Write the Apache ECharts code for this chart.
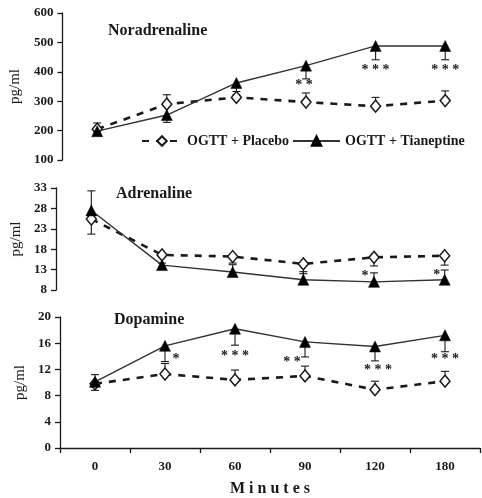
<!DOCTYPE html>
<html>
<head>
<meta charset="utf-8">
<script src="https://cdn.jsdelivr.net/npm/echarts@6/dist/echarts.min.js"></script>
<style>html,body{margin:0;padding:0;background:#fff}#c{width:482px;height:498px}</style>
</head>
<body>
<div id="c"></div>
<script>
// ---- data ----
const minutes = ['0', '30', '60', '90', '120', '180'];
const placeboName = 'OGTT + Placebo';
const tianName = 'OGTT + Tianeptine';

// Noradrenaline (pg/ml)
const norPlacebo = [205, 290, 313, 297, 283, 302];
const norPlaceboErrUp = [21, 32, 8, 31, 30, 33];
const norPlaceboErrDown = [0, 0, 0, 0, 0, 0];
const norTian = [198, 253, 362, 421, 488, 488];
const norTianErrUp = [0, 0, 0, 0, 0, 0];
const norTianErrDown = [10, 25, 29, 45, 47, 47];
const norSig = ['', '', '', '**', '***', '***'];
const norTicks = [100, 600, 100];

// Adrenaline (pg/ml)
const adrPlacebo = [25.4, 16.6, 16.2, 14.4, 16.0, 16.4];
const adrPlaceboErrUp = [0, 0, 0, 0, 0, 0];
const adrPlaceboErrDown = [3.7, 0.5, 1.6, 2.4, 2.1, 2.3];
const adrTian = [27.5, 14.1, 12.4, 10.5, 10.0, 10.5];
const adrTianErrUp = [4.8, 0.5, 1.8, 2.0, 2.2, 2.4];
const adrTianErrDown = [0, 0, 0, 0, 0, 0];
const adrSig = ['', '', '', '', '*', '*'];
const adrTicks = [8, 33, 5];

// Dopamine (pg/ml)
const dopPlacebo = [9.8, 11.3, 10.4, 11.0, 8.9, 10.2];
const dopPlaceboErrUp = [0, 1.6, 1.5, 1.5, 1.3, 1.5];
const dopPlaceboErrDown = [1.0, 0, 0, 0, 0, 0];
const dopTian = [10.1, 15.6, 18.2, 16.2, 15.5, 17.2];
const dopTianErrUp = [1.1, 0, 0, 0, 0, 0];
const dopTianErrDown = [0, 2.4, 2.5, 2.3, 2.2, 2.5];
const dopSig = ['', '*', '***', '**', '***', '***'];
const dopTicks = [0, 20, 4];

const panelTitles = ['Noradrenaline', 'Adrenaline', 'Dopamine'];
const yName = 'pg/ml';
const xName = 'M i n u t e s';

// ---- layout / style (not data) ----
const FONT = '"Liberation Serif", "Times New Roman", serif';
const INK = '#1a1a1a';
const grids = [
  {left: 55, right: 2, top: 13, height: 147},
  {left: 56, right: 2, top: 188, height: 102},
  {left: 60, right: 2, top: 317, height: 132}
];
const yNameGaps = [27, 24, 31];
const sigOffsets = [
  [null, null, null, [-2, 7], [0, 11], [0, 11]],
  [null, null, null, null, [-9, 4], [-8, 5]],
  [null, [11, -2], [0, 11], [-13, 5], [3, 10], [0, 8]]
];

const panels = [
  {p: norPlacebo, pu: norPlaceboErrUp, pd: norPlaceboErrDown, t: norTian, tu: norTianErrUp, td: norTianErrDown, sig: norSig, ticks: norTicks, sigEnd: 'low'},
  {p: adrPlacebo, pu: adrPlaceboErrUp, pd: adrPlaceboErrDown, t: adrTian, tu: adrTianErrUp, td: adrTianErrDown, sig: adrSig, ticks: adrTicks, sigEnd: 'high'},
  {p: dopPlacebo, pu: dopPlaceboErrUp, pd: dopPlaceboErrDown, t: dopTian, tu: dopTianErrUp, td: dopTianErrDown, sig: dopSig, ticks: dopTicks, sigEnd: 'low'}
];

function errRender(params, api) {
  const x = api.value(0), lo = api.value(1), hi = api.value(2), m = api.value(3);
  const a = api.coord([x, lo]), b = api.coord([x, hi]);
  const st = {stroke: INK, lineWidth: 1.1};
  const ch = [{type: 'line', shape: {x1: a[0], y1: a[1], x2: b[0], y2: b[1]}, style: st}];
  if (lo < m) ch.push({type: 'line', shape: {x1: a[0] - 4, y1: a[1], x2: a[0] + 4, y2: a[1]}, style: st});
  if (hi > m) ch.push({type: 'line', shape: {x1: b[0] - 4, y1: b[1], x2: b[0] + 4, y2: b[1]}, style: st});
  return {type: 'group', children: ch};
}

const xAxes = [], yAxes = [], series = [];
panels.forEach((pn, k) => {
  const last = k === 2;
  xAxes.push({
    type: 'category', gridIndex: k, data: minutes, boundaryGap: true,
    axisLine: {show: last, lineStyle: {color: INK, width: 1.3}},
    axisTick: {show: last, inside: false, length: 5, alignWithLabel: false, lineStyle: {color: INK, width: 1.3}},
    axisLabel: {show: last, margin: 12, fontFamily: FONT, fontWeight: 'bold', fontSize: 13, color: INK},
    name: last ? xName : '', nameLocation: 'middle', nameGap: 33,
    nameTextStyle: {fontFamily: FONT, fontWeight: 'bold', fontSize: 16, color: INK},
    splitLine: {show: false}
  });
  yAxes.push({
    type: 'value', gridIndex: k, min: pn.ticks[0], max: pn.ticks[1], interval: pn.ticks[2],
    axisLine: {show: true, lineStyle: {color: INK, width: 1.3}},
    axisTick: {show: true, inside: false, length: 5, lineStyle: {color: INK, width: 1.3}},
    axisLabel: {margin: 9, fontFamily: FONT, fontWeight: 'bold', fontSize: 13, color: INK},
    name: yName, nameLocation: 'middle', nameGap: yNameGaps[k], nameRotate: 90,
    nameTextStyle: {fontFamily: FONT, fontSize: 15, color: INK},
    splitLine: {show: false}
  });
  // error bars
  series.push({
    type: 'custom', name: 'errP' + k, xAxisIndex: k, yAxisIndex: k, z: 1,
    renderItem: errRender, silent: true,
    data: pn.p.map((v, i) => [i, v - pn.pd[i], v + pn.pu[i], v])
  });
  series.push({
    type: 'custom', name: 'errT' + k, xAxisIndex: k, yAxisIndex: k, z: 1,
    renderItem: errRender, silent: true,
    data: pn.t.map((v, i) => [i, v - pn.td[i], v + pn.tu[i], v])
  });
  // lines
  series.push({
    type: 'line', name: placeboName, xAxisIndex: k, yAxisIndex: k, z: 3,
    data: pn.p, symbol: 'diamond', symbolSize: [10, 12],
    lineStyle: {color: INK, width: 2.6, type: [7, 7]},
    itemStyle: {color: '#fff', borderColor: INK, borderWidth: 1.5}
  });
  series.push({
    type: 'line', name: tianName, xAxisIndex: k, yAxisIndex: k, z: 4,
    data: pn.t, symbol: 'triangle', symbolSize: 11,
    lineStyle: {color: '#333', width: 1.4, type: 'solid'},
    itemStyle: {color: '#000', borderColor: '#000', borderWidth: 0.5}
  });
  // significance marks
  series.push({
    type: 'custom', name: 'sig' + k, xAxisIndex: k, yAxisIndex: k, z: 5, silent: true,
    data: pn.t.map((v, i) => [i, pn.sigEnd === 'low' ? v - pn.td[i] : v + pn.tu[i]]),
    renderItem: function (params, api) {
      const i = params.dataIndex;
      const s = pn.sig[i];
      if (!s) return null;
      const off = sigOffsets[k][i] || [0, 0];
      const pt = api.coord([api.value(0), api.value(1)]);
      return {
        type: 'text', x: pt[0] + off[0], y: pt[1] + off[1],
        style: {text: s.split('').join(' '), align: 'center', verticalAlign: 'middle',
          font: 'bold 14px ' + FONT, fill: INK}
      };
    }
  });
});

const legendText = {fontFamily: FONT, fontWeight: 'bold', fontSize: 14, color: INK};
const titleText = {fontFamily: FONT, fontWeight: 'bold', fontSize: 16, color: INK};
const option = {
  animation: false,
  backgroundColor: '#fff',
  title: [
    {text: panelTitles[0], left: 103, top: 18, textStyle: titleText},
    {text: panelTitles[1], left: 111, top: 181, textStyle: titleText},
    {text: panelTitles[2], left: 109, top: 307, textStyle: titleText}
  ],
  legend: [
    {data: [placeboName], left: 136, top: 129, itemWidth: 40, itemHeight: 12, itemGap: 0, textStyle: legendText, selectedMode: false},
    {data: [tianName], left: 287, top: 129, itemWidth: 47, itemHeight: 12, itemGap: 0, textStyle: legendText, selectedMode: false}
  ],
  grid: grids,
  xAxis: xAxes,
  yAxis: yAxes,
  series: series
};
const chart = echarts.init(document.getElementById('c'), null, {renderer: 'canvas'});
chart.setOption(option);
</script>
</body>
</html>
